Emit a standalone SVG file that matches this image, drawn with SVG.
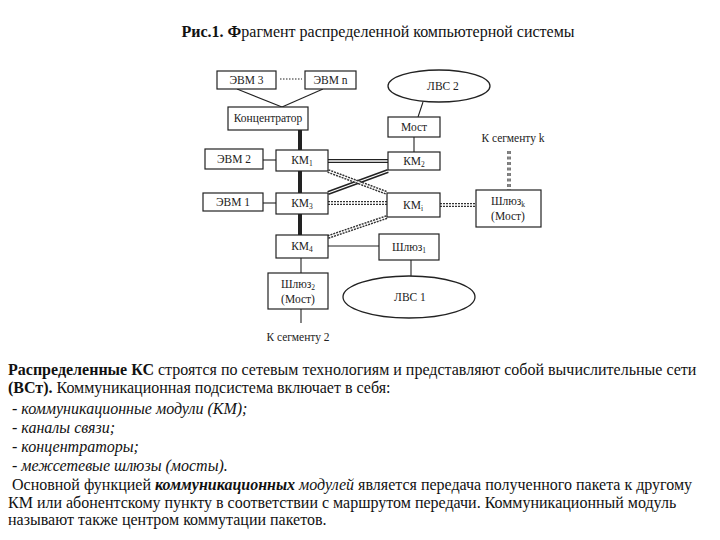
<svg xmlns="http://www.w3.org/2000/svg" width="720" height="540" viewBox="0 0 720 540">
<style>
.bx{fill:#fff;stroke:#222;stroke-width:1.2}
.el{fill:#fff;stroke:#222;stroke-width:1.3}
.lb{font-family:"Liberation Serif","DejaVu Serif",serif;font-size:11.5px;fill:#222;text-anchor:middle}
.sub{font-size:7.5px}
.ln{stroke:#222;stroke-width:1.1;fill:none}
.thick{stroke:#222;stroke-width:4;fill:none}
.dbl{stroke:#222;stroke-width:4;fill:none}
.dblin{stroke:#fff;stroke-width:1.3;fill:none}
.dsh{stroke:#333;stroke-width:4;fill:none;stroke-dasharray:2 1}
.tx{font-family:"Liberation Serif","Times New Roman",serif;font-size:16px;fill:#111}
</style>
<rect width="720" height="540" fill="#fff"/>
<text class="tx" x="378" y="37" text-anchor="middle" font-size="15.3"><tspan font-weight="bold">Рис.1. Ф</tspan>рагмент распределенной компьютерной системы</text>

<g id="connectors">
<line class="ln" x1="237" y1="89" x2="282" y2="107"/>
<line class="ln" x1="323" y1="89" x2="282" y2="107"/>
<line class="ln" x1="280" y1="79" x2="302" y2="79" stroke-dasharray="1.5 1.5"/>
<line class="ln" x1="423" y1="102" x2="418" y2="117"/>
<line class="ln" x1="414" y1="137" x2="414" y2="152"/>
<line class="ln" x1="263" y1="160" x2="276" y2="160"/>
<line class="ln" x1="263" y1="203" x2="276" y2="203"/>
<line class="thick" x1="300" y1="130" x2="300" y2="150"/>
<line class="thick" x1="300" y1="171" x2="300" y2="193"/>
<line class="thick" x1="300" y1="214" x2="300" y2="235"/>
<line class="ln" x1="301" y1="258" x2="301" y2="273"/>
<line class="ln" x1="328" y1="246" x2="379" y2="246"/>
<line class="ln" x1="301" y1="309" x2="301" y2="323"/>
<line class="ln" x1="411" y1="260" x2="411" y2="277"/>
<line class="dbl" x1="328" y1="161" x2="388" y2="161"/>
<line class="dblin" x1="328" y1="161" x2="388" y2="161"/>
<line class="dbl" x1="328" y1="193" x2="388" y2="171"/>
<line class="dblin" x1="328" y1="193" x2="388" y2="171"/>
<line class="dsh" x1="328" y1="171" x2="387" y2="193"/>
<line class="dblin" x1="328" y1="171" x2="387" y2="193"/>
<line class="dsh" x1="328" y1="203" x2="387" y2="203"/>
<line class="dblin" x1="328" y1="203" x2="387" y2="203"/>
<line class="dsh" x1="328" y1="237" x2="387" y2="217"/>
<line class="dblin" x1="328" y1="237" x2="387" y2="217"/>
<line class="dsh" x1="440" y1="205" x2="476" y2="205"/>
<line class="dblin" x1="440" y1="205" x2="476" y2="205"/>
<line x1="509" y1="151" x2="509" y2="190" stroke="#222" stroke-width="3.2" stroke-dasharray="3 2.5"/>
<line x1="509" y1="151" x2="509" y2="190" stroke="#fff" stroke-width="0.9"/>
</g>

<g id="evm3"><rect class="bx" x="217" y="71" width="59" height="18"/><text class="lb" x="246.5" y="84">ЭВМ 3</text></g>
<g id="evmn"><rect class="bx" x="305" y="71" width="51" height="18"/><text class="lb" x="330.5" y="84">ЭВМ n</text></g>
<g id="conc"><rect class="bx" x="228" y="107" width="80" height="23"/><text class="lb" x="268" y="122">Концентратор</text></g>
<g id="lvs2"><ellipse class="el" cx="439" cy="86" rx="51" ry="16"/><text class="lb" x="443" y="90">ЛВС 2</text></g>
<g id="most"><rect class="bx" x="388" y="117" width="52" height="20"/><text class="lb" x="414" y="131">Мост</text></g>
<g id="km2"><rect class="bx" x="388" y="152" width="52" height="18"/><text class="lb" x="414" y="165">КМ<tspan class="sub" dy="2">2</tspan></text></g>
<g id="segk"><text class="lb" x="513" y="142">К сегменту k</text></g>
<g id="shlk"><rect class="bx" x="476" y="190" width="65" height="37"/><text class="lb" x="508" y="205">Шлюз<tspan class="sub" dy="2">k</tspan></text><text class="lb" x="508" y="220">(Мост)</text></g>
<g id="evm2"><rect class="bx" x="205" y="149" width="58" height="20"/><text class="lb" x="234" y="163">ЭВМ 2</text></g>
<g id="km1"><rect class="bx" x="276" y="150" width="52" height="21"/><text class="lb" x="302" y="164">КМ<tspan class="sub" dy="2">1</tspan></text></g>
<g id="evm1"><rect class="bx" x="203" y="193" width="60" height="18"/><text class="lb" x="233" y="206">ЭВМ 1</text></g>
<g id="km3"><rect class="bx" x="276" y="193" width="52" height="21"/><text class="lb" x="302" y="207">КМ<tspan class="sub" dy="2">3</tspan></text></g>
<g id="kmi"><rect class="bx" x="387" y="193" width="53" height="24"/><text class="lb" x="413" y="209">КМ<tspan class="sub" dy="2">i</tspan></text></g>
<g id="km4"><rect class="bx" x="276" y="235" width="52" height="23"/><text class="lb" x="302" y="250">КМ<tspan class="sub" dy="2">4</tspan></text></g>
<g id="shl1"><rect class="bx" x="379" y="234" width="60" height="26"/><text class="lb" x="409" y="251">Шлюз<tspan class="sub" dy="2">1</tspan></text></g>
<g id="lvs1"><ellipse class="el" cx="409" cy="297" rx="66" ry="21"/><text class="lb" x="410" y="301">ЛВС 1</text></g>
<g id="shl2"><rect class="bx" x="268" y="273" width="60" height="36"/><text class="lb" x="298" y="288">Шлюз<tspan class="sub" dy="2">2</tspan></text><text class="lb" x="298" y="303">(Мост)</text></g>
<g id="seg2"><text class="lb" x="298" y="341">К сегменту 2</text></g>

<g id="body">
<text class="tx" x="8" y="375"><tspan font-weight="bold">Распределенные КС</tspan> строятся по сетевым технологиям и представляют собой вычислительные сети</text>
<text class="tx" x="8" y="393"><tspan font-weight="bold">(ВСт).</tspan> Коммуникационная подсистема включает в себя:</text>
<text class="tx" x="12" y="414" font-style="italic">- коммуникационные модули (КМ);</text>
<text class="tx" x="12" y="433" font-style="italic">- каналы связи;</text>
<text class="tx" x="12" y="452" font-style="italic">- концентраторы;</text>
<text class="tx" x="12" y="471" font-style="italic">- межсетевые шлюзы (мосты).</text>
<text class="tx" x="12" y="490">Основной функцией <tspan font-weight="bold" font-style="italic">коммуникационных</tspan> <tspan font-style="italic">модулей</tspan> является передача полученного пакета к другому</text>
<text class="tx" x="8" y="508">КМ или абонентскому пункту в соответствии с маршрутом передачи. Коммуникационный модуль</text>
<text class="tx" x="8" y="525">называют также центром коммутации пакетов.</text>
</g>
</svg>
